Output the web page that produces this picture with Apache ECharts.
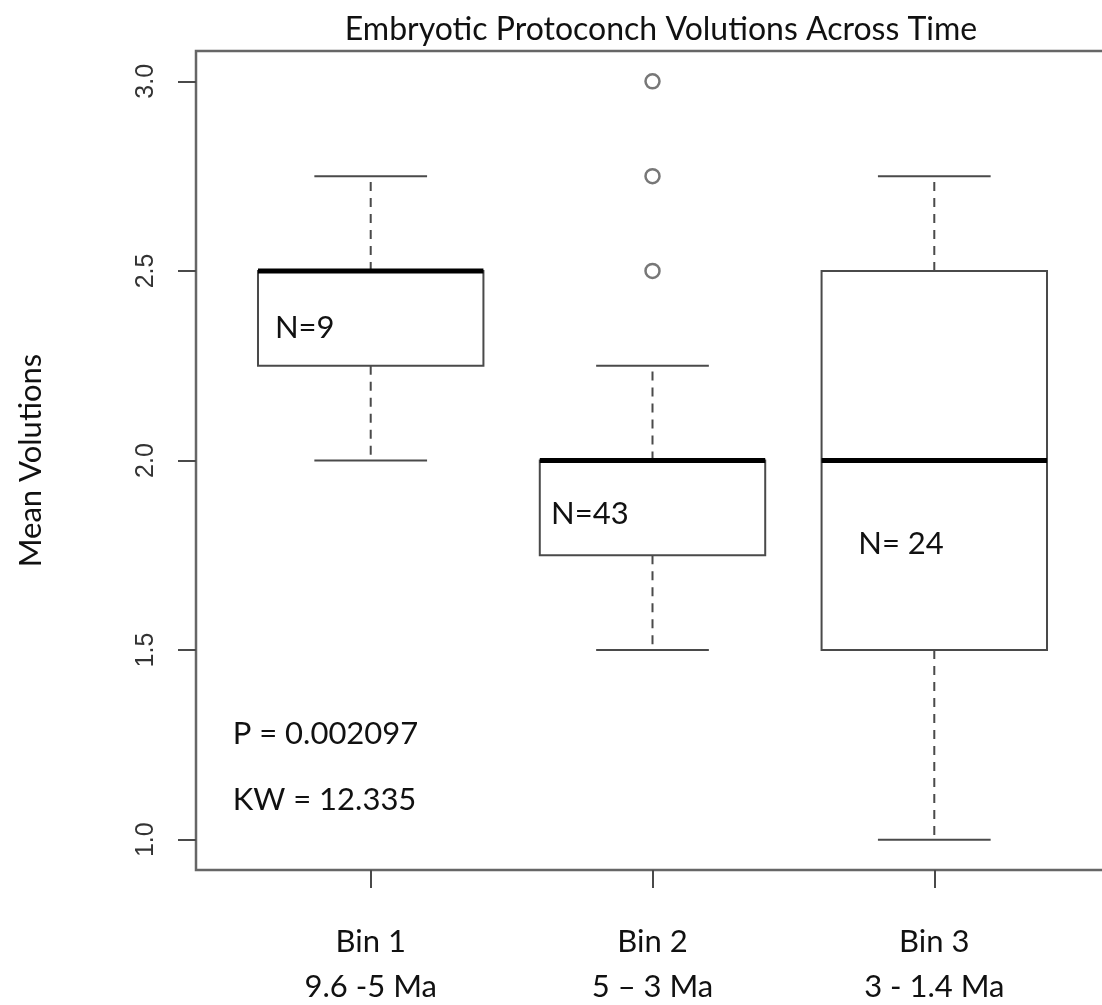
<!DOCTYPE html>
<html>
<head>
<meta charset="utf-8">
<script src="https://cdn.jsdelivr.net/npm/echarts@6/dist/echarts.min.js"></script>
<style>
  html, body { margin: 0; padding: 0; background: #fff; }
  #chart { width: 1102px; height: 1005px; }
</style>
</head>
<body>
<div id="chart"></div>
<script>
// box plot values
const bins = ['Bin 1\n9.6 -5 Ma', 'Bin 2\n5 – 3 Ma', 'Bin 3\n3 - 1.4 Ma']
const binPos = [1, 2, 3]
const lowerWhisker = [2.0, 1.5, 1.0]
const q1 = [2.25, 1.75, 1.5]
const median = [2.5, 2.0, 2.0]
const q3 = [2.5, 2.0, 2.5]
const upperWhisker = [2.75, 2.25, 2.75]
const outliers = [[2, 2.5], [2, 2.75], [2, 3.0]]
const yTicks = [1.0, 1.5, 2.0, 2.5, 3.0]

// text placed inside the plot (x, y in data units)
const notes = [
  { text: 'N=9', x: 0.66, y: 2.35 },
  { text: 'N=43', x: 1.64, y: 1.86 },
  { text: 'N= 24', x: 2.73, y: 1.78 },
  { text: 'P = 0.002097', x: 0.51, y: 1.28 },
  { text: 'KW = 12.335', x: 0.51, y: 1.105 }
]

const boxData = binPos.map((p, i) => [p, lowerWhisker[i], q1[i], median[i], q3[i], upperWhisker[i]])
const noteData = notes.map(n => [n.x, n.y, n.text])

const lineCol = '#4a4a4a'
const textCol = '#111'
const textFont = 'Lato, "Open Sans", sans-serif'

function renderBox(params, api) {
  const x = api.value(0)
  const half = api.size([0.4, 0])[0]
  const cap = api.size([0.2, 0])[0]
  const pLo = api.coord([x, api.value(1)])
  const pQ1 = api.coord([x, api.value(2)])
  const pMed = api.coord([x, api.value(3)])
  const pQ3 = api.coord([x, api.value(4)])
  const pHi = api.coord([x, api.value(5)])
  const cx = pMed[0]
  const solid = { stroke: lineCol, lineWidth: 2, fill: null }
  const dashed = { stroke: lineCol, lineWidth: 2, lineDash: [9, 7], fill: null }
  return {
    type: 'group',
    children: [
      { type: 'line', shape: { x1: cx, y1: pQ3[1], x2: cx, y2: pHi[1] }, style: dashed },
      { type: 'line', shape: { x1: cx, y1: pQ1[1], x2: cx, y2: pLo[1] }, style: dashed },
      { type: 'line', shape: { x1: cx - cap, y1: pHi[1], x2: cx + cap, y2: pHi[1] }, style: solid },
      { type: 'line', shape: { x1: cx - cap, y1: pLo[1], x2: cx + cap, y2: pLo[1] }, style: solid },
      { type: 'rect', shape: { x: cx - half, y: pQ3[1], width: half * 2, height: pQ1[1] - pQ3[1] }, style: { stroke: lineCol, lineWidth: 2, fill: '#fff' } },
      { type: 'line', shape: { x1: cx - half, y1: pMed[1], x2: cx + half, y2: pMed[1] }, style: { stroke: '#000', lineWidth: 5 } }
    ]
  }
}

function renderNote(params, api) {
  const p = api.coord([api.value(0), api.value(1)])
  return {
    type: 'text',
    x: p[0],
    y: p[1],
    style: {
      text: noteData[params.dataIndex][2],
      fill: textCol,
      font: '31px ' + textFont,
      textAlign: 'left',
      textVerticalAlign: 'middle'
    }
  }
}

const chart = echarts.init(document.getElementById('chart'))
chart.setOption({
  animation: false,
  backgroundColor: '#fff',
  title: {
    text: 'Embryotic Protoconch Volutions Across Time',
    left: 656,
    top: 9,
    textAlign: 'center',
    textStyle: { fontFamily: textFont, fontSize: 32, fontWeight: 'normal', color: textCol }
  },
  grid: {
    left: 196, top: 51, width: 913, height: 819,
    outerBoundsMode: 'none',
    containLabel: false,
    show: true, borderColor: '#666', borderWidth: 2.5, backgroundColor: 'transparent'
  },
  xAxis: {
    type: 'value', min: 0.38, max: 3.62,
    splitLine: { show: false },
    axisLine: { show: false },
    axisTick: { show: true, length: 18, customValues: binPos, lineStyle: { color: lineCol, width: 2 } },
    axisLabel: {
      customValues: binPos,
      formatter: v => bins[Math.round(v) - 1],
      margin: 49,
      fontFamily: textFont, fontSize: 31, lineHeight: 45, color: textCol
    }
  },
  yAxis: {
    type: 'value', min: 0.92, max: 3.08,
    name: 'Mean Volutions',
    nameLocation: 'middle',
    nameRotate: 90,
    nameGap: 150,
    nameTextStyle: { fontFamily: textFont, fontSize: 31, color: textCol },
    splitLine: { show: false },
    axisLine: { show: false },
    axisTick: { show: true, length: 18, customValues: yTicks, lineStyle: { color: lineCol, width: 2 } },
    axisLabel: {
      customValues: yTicks,
      rotate: 90,
      margin: 37,
      formatter: v => v.toFixed(1),
      fontFamily: '"Liberation Sans", Arial, sans-serif', fontSize: 25, color: '#333'
    }
  },
  series: [
    { type: 'custom', renderItem: renderBox, data: boxData, encode: { x: 0, y: [1, 2, 3, 4, 5] }, z: 2 },
    {
      type: 'scatter', data: outliers, symbol: 'circle', symbolSize: 14,
      itemStyle: { color: '#fff', borderColor: '#555', borderWidth: 2.5 }, z: 3
    },
    { type: 'custom', renderItem: renderNote, data: noteData, encode: { x: 0, y: 1 }, z: 4 }
  ]
})
window.addEventListener('resize', () => chart.resize())
</script>
</body>
</html>
